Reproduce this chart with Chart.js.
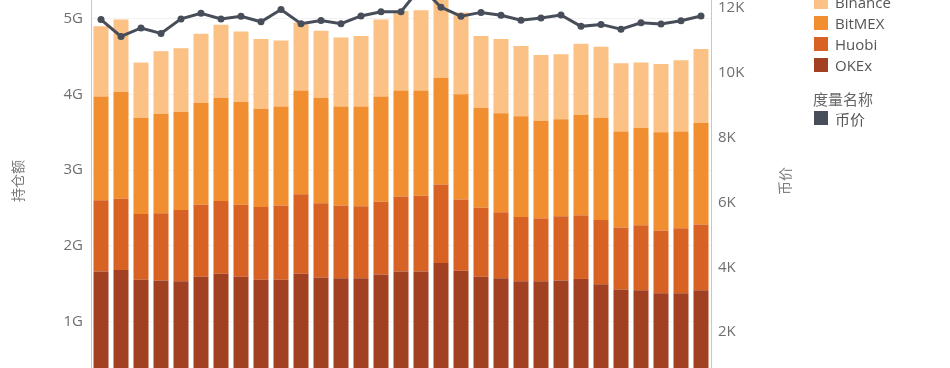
<!DOCTYPE html>
<html>
<head>
<meta charset="utf-8">
<script src="https://cdn.jsdelivr.net/npm/chart.js@4.4.1/dist/chart.umd.min.js"></script>
<style>
    html, body { margin: 0; padding: 0; background: #fff; width: 950px; height: 368px; overflow: hidden; }
    body { position: relative; font-family: "Open Sans", "Noto Sans CJK SC", sans-serif; }
    #wrap { position: absolute; left: 0; top: -74px; width: 950px; height: 488px; }
    .axis-title { position: absolute; width: 60px; height: 20px; line-height: 20px; text-align: center;
                  font-size: 14px; color: #7a7a7a; transform: rotate(-90deg); white-space: nowrap; }
    .lg-row { position: absolute; left: 814px; height: 21px; display: flex; align-items: center;
              font-size: 15px; color: #555; white-space: nowrap; }
    .lg-box { width: 14px; height: 14px; margin-right: 7px; }
    .lg-title { position: absolute; left: 813px; font-size: 15px; color: #666; }
</style>
</head>
<body>
<div id="wrap"><canvas id="chart"></canvas></div>
<div class="axis-title" style="left:-12px; top:171px;">持仓额</div>
<div class="axis-title" style="left:755px; top:171px;">币价</div>
<div id="legend"></div>

<script>
// 31 天的数据（持仓额单位: G，币价单位: 美元）
const days = ['1', '2', '3', '4', '5', '6', '7', '8', '9', '10', '11', '12', '13', '14', '15', '16',
              '17', '18', '19', '20', '21', '22', '23', '24', '25', '26', '27', '28', '29', '30', '31'];

const okex    = [1.66, 1.68, 1.55, 1.54, 1.53, 1.59, 1.63, 1.59, 1.55, 1.55, 1.63, 1.58, 1.57, 1.57, 1.62, 1.66,
                 1.66, 1.77, 1.67, 1.59, 1.57, 1.53, 1.53, 1.54, 1.56, 1.49, 1.42, 1.41, 1.37, 1.37, 1.41];
const huobi   = [0.94, 0.94, 0.87, 0.89, 0.94, 0.95, 0.96, 0.95, 0.96, 0.98, 1.05, 0.98, 0.96, 0.95, 0.96, 0.99,
                 1.00, 1.04, 0.94, 0.91, 0.87, 0.85, 0.83, 0.85, 0.84, 0.85, 0.82, 0.86, 0.83, 0.86, 0.87];
const bitmex  = [1.37, 1.41, 1.27, 1.31, 1.30, 1.35, 1.36, 1.36, 1.30, 1.31, 1.37, 1.39, 1.31, 1.32, 1.39, 1.40,
                 1.39, 1.41, 1.39, 1.32, 1.31, 1.33, 1.29, 1.28, 1.33, 1.35, 1.27, 1.29, 1.30, 1.28, 1.34];
const binance = [0.93, 0.96, 0.73, 0.83, 0.84, 0.91, 0.97, 0.93, 0.92, 0.87, 0.90, 0.89, 0.91, 0.93, 1.02, 1.05,
                 1.06, 1.07, 1.08, 0.95, 0.98, 0.93, 0.87, 0.86, 0.94, 0.94, 0.90, 0.86, 0.90, 0.94, 0.98];
const price   = [11640, 11120, 11380, 11210, 11660, 11830, 11660, 11740, 11570, 11950, 11510, 11610, 11510, 11750, 11880, 11880,
                 12650, 12020, 11740, 11860, 11770, 11620, 11690, 11780, 11430, 11490, 11340, 11540, 11500, 11600, 11750];

const exchangeNames = ['OKEx', 'Huobi', 'BitMEX', 'Binance'];
const priceName = '币价';

const colors = {
    OKEx: '#a24022',
    Huobi: '#d76224',
    BitMEX: '#f08e30',
    Binance: '#fcc185',
    price: '#474e5a'
};

const tickColor = '#6f6f6f';
const font = { family: '"Open Sans", "Noto Sans CJK SC", sans-serif', size: 15 };

const seriesData = { OKEx: okex, Huobi: huobi, BitMEX: bitmex, Binance: binance };

const barSets = exchangeNames.map(name => ({
    type: 'bar',
    label: name,
    data: seriesData[name],
    backgroundColor: colors[name],
    yAxisID: 'y',
    order: 1,
    barPercentage: 0.75,
    categoryPercentage: 1.0
}));

const lineSet = {
    type: 'line',
    label: priceName,
    data: price,
    yAxisID: 'y1',
    borderColor: colors.price,
    backgroundColor: colors.price,
    borderWidth: 3,
    pointRadius: 3.5,
    pointBorderWidth: 0,
    pointBackgroundColor: colors.price,
    tension: 0,
    order: 0
};

new Chart(document.getElementById('chart'), {
    data: { labels: days, datasets: [lineSet, ...barSets] },
    options: {
        responsive: true,
        maintainAspectRatio: false,
        animation: false,
        layout: { padding: { left: 0, right: 179, top: 0, bottom: 0 } },
        plugins: { legend: { display: false }, tooltip: { enabled: false } },
        scales: {
            x: { display: false, stacked: true },
            y: {
                position: 'left',
                stacked: true,
                min: 0, max: 6,
                ticks: { stepSize: 1, padding: 8, color: tickColor, font, callback: v => v + 'G' },
                grid: { color: '#f2f2f2', drawTicks: false },
                border: { color: '#c8c8c8' },
                afterFit: scale => { scale.width = 91; }
            },
            y1: {
                position: 'right',
                stacked: false,
                min: 0, max: 14000,
                ticks: { stepSize: 2000, padding: 7, color: tickColor, font, callback: v => (v / 1000) + 'K' },
                grid: { drawOnChartArea: false, drawTicks: false },
                border: { color: '#c8c8c8' },
                afterFit: scale => { scale.width = 60; }
            }
        }
    }
});

// 图例（与 Tableau 样式一致）
const legend = document.getElementById('legend');
[...exchangeNames].reverse().forEach((name, i) => {
    const row = document.createElement('div');
    row.className = 'lg-row';
    row.style.top = (-8.5 + i * 21) + 'px';
    row.innerHTML = `<span class="lg-box" style="background:${colors[name]}"></span>${name}`;
    legend.appendChild(row);
});
const mTitle = document.createElement('div');
mTitle.className = 'lg-title';
mTitle.style.top = '88px';
mTitle.textContent = '度量名称';
legend.appendChild(mTitle);
const pRow = document.createElement('div');
pRow.className = 'lg-row';
pRow.style.top = '107.5px';
pRow.innerHTML = `<span class="lg-box" style="background:${colors.price}"></span>${priceName}`;
legend.appendChild(pRow);
</script>
</body>
</html>
